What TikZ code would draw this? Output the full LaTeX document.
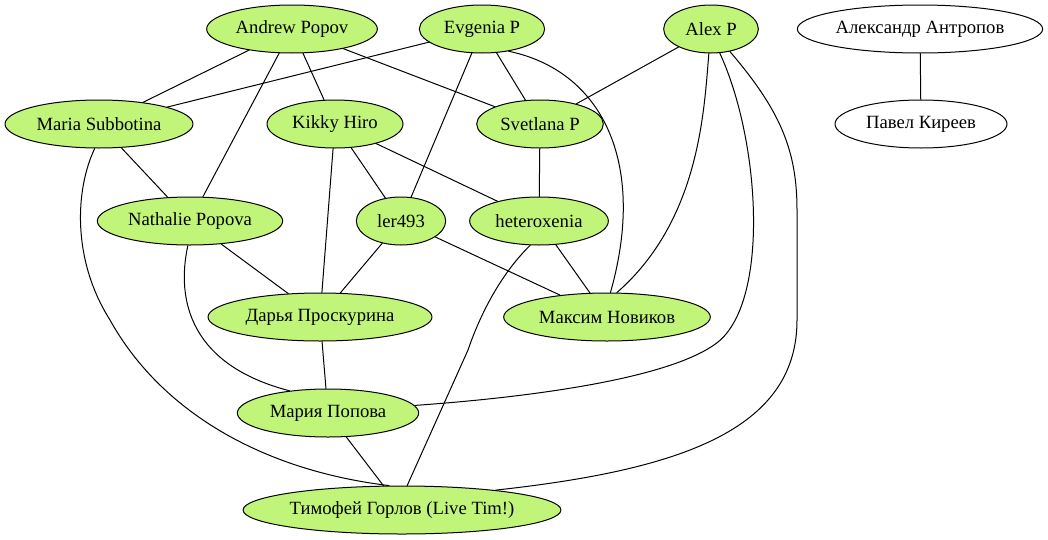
\documentclass[tikz,border=0pt]{standalone}
\usepackage{fontspec}
\setmainfont{Liberation Serif}
\usetikzlibrary{shapes.geometric}
\definecolor{nodegreen}{HTML}{C0F57A}
\begin{document}
\begin{tikzpicture}[x=0.75pt, y=-0.75pt, line width=.75pt, line join=round, line cap=round,
		font=\fontsize{14pt}{17pt}\selectfont,
		person/.style={ellipse, draw, fill=nodegreen, minimum height=36pt, inner sep=0pt},
		loner/.style={ellipse, draw, fill=white, minimum height=36pt, inner sep=0pt}]

				% Khung ảnh
				\useasboundingbox (0,0) rectangle (1048,539);

				% Hàng 1
				\node[person, minimum width=128pt] (AP) at (292,29) {Andrew Popov};
				\node[person, minimum width=94pt] (EP) at (482,29) {Evgenia P};
				\node[person, minimum width=71pt] (AlexP) at (711,29) {Alex P};
				\node[loner, minimum width=184pt] (AA) at (920,29) {Александр Антропов};

				% Hàng 2
				\node[person, minimum width=141pt] (MS) at (99,124) {Maria Subbotina};
				\node[person, minimum width=102pt] (KH) at (335,124) {Kikky Hiro};
				\node[person, minimum width=95pt] (SP) at (540,124) {Svetlana P};
				\node[loner, minimum width=129pt] (PK) at (921,124) {Павел Киреев};

				% Hàng 3
				\node[person, minimum width=139pt] (NP) at (190,221) {Nathalie Popova};
				\node[person, minimum width=67pt] (ler) at (401,221) {ler493};
				\node[person, minimum width=104pt] (hx) at (539,221) {heteroxenia};

				% Hàng 4
				\node[person, minimum width=168pt] (DP) at (320,317) {Дарья Проскурина};
				\node[person, minimum width=155pt] (MN) at (607,317) {Максим Новиков};

				% Hàng 5, 6
				\node[person, minimum width=136pt] (MP) at (328,413) {Мария Попова};
				\node[person, minimum width=238pt] (TG) at (402,510) {Тимофей Горлов (Live Tim!)};

				% Các cạnh thẳng
				\draw (AP) -- (MS);
				\draw (AP) -- (KH);
				\draw (AP) -- (NP);
				\draw (AP) -- (SP);
				\draw (EP) -- (MS);
				\draw (EP) -- (SP);
				\draw (EP) -- (ler);
				\draw (AlexP) -- (SP);
				\draw (AA) -- (PK);
				\draw (MS) -- (NP);
				\draw (KH) -- (ler);
				\draw (KH) -- (hx);
				\draw (KH) -- (DP);
				\draw (SP) -- (hx);
				\draw (NP) -- (DP);
				\draw (ler) -- (DP);
				\draw (ler) -- (MN);
				\draw (hx) -- (MN);
				\draw (DP) -- (MP);
				\draw (MP) -- (TG);

				% Các cạnh cong
				\draw (EP.-40) .. controls (600,70) and (648,160) .. (MN.82);
				\draw (AlexP.-95) .. controls (704,110) and (700,220) .. (MN.68);
				\draw (AlexP.-70) .. controls (760,140) and (770,300) .. (718,342)
					.. controls (670,380) and (520,398) .. (MP.5);
				\draw (AlexP.-50) .. controls (780,110) and (797,150) .. (797,210) -- (797,320)
					.. controls (797,430) and (680,470) .. (TG.12);
				\draw (MS.-100) .. controls (75,190) and (72,260) .. (110,320)
					.. controls (160,410) and (260,470) .. (TG.118);
				\draw (NP.-95) .. controls (176,300) and (190,365) .. (MP.150);
				\draw (hx.-110) .. controls (500,275) and (480,315) .. (468,350) -- (TG.78);

			\end{tikzpicture}
\end{document}
